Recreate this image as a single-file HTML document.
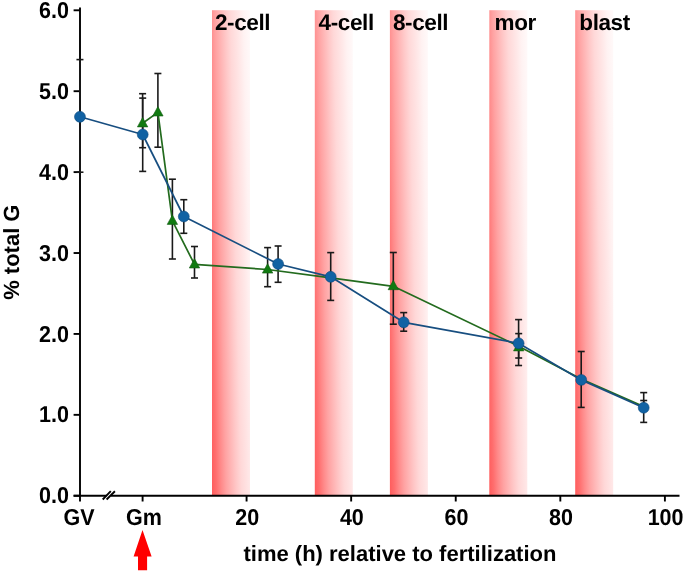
<!DOCTYPE html>
<html><head><meta charset="utf-8"><style>
html,body{margin:0;padding:0;background:#fff;}
body{width:685px;height:572px;overflow:hidden;}
svg{display:block;will-change:transform;}
text{font-family:"Liberation Sans",sans-serif;font-weight:bold;fill:#000;text-rendering:geometricPrecision;}
</style></head><body>
<svg width="685" height="572" viewBox="0 0 685 572">
<defs>
<linearGradient id="b0" gradientUnits="userSpaceOnUse" x1="212.00" y1="495.75" x2="261.37" y2="494.59"><stop offset="0.0000" stop-color="#ff5c5c"/><stop offset="0.0923" stop-color="#ff6e6e"/><stop offset="0.1923" stop-color="#ff8a8a"/><stop offset="0.2923" stop-color="#ffa2a2"/><stop offset="0.4000" stop-color="#ffb6b6"/><stop offset="0.5000" stop-color="#ffc8c8"/><stop offset="0.6000" stop-color="#ffd8d8"/><stop offset="0.7077" stop-color="#ffe2e2"/><stop offset="0.7692" stop-color="#ffe8e8"/><stop offset="0.8615" stop-color="#fff2f2"/><stop offset="1.0000" stop-color="#fffafa"/></linearGradient>
<linearGradient id="b1" gradientUnits="userSpaceOnUse" x1="314.80" y1="495.75" x2="364.17" y2="494.59"><stop offset="0.0000" stop-color="#ff5c5c"/><stop offset="0.0923" stop-color="#ff6e6e"/><stop offset="0.1923" stop-color="#ff8a8a"/><stop offset="0.2923" stop-color="#ffa2a2"/><stop offset="0.4000" stop-color="#ffb6b6"/><stop offset="0.5000" stop-color="#ffc8c8"/><stop offset="0.6000" stop-color="#ffd8d8"/><stop offset="0.7077" stop-color="#ffe2e2"/><stop offset="0.7692" stop-color="#ffe8e8"/><stop offset="0.8615" stop-color="#fff2f2"/><stop offset="1.0000" stop-color="#fffafa"/></linearGradient>
<linearGradient id="b2" gradientUnits="userSpaceOnUse" x1="389.90" y1="495.75" x2="439.27" y2="494.59"><stop offset="0.0000" stop-color="#ff5c5c"/><stop offset="0.0923" stop-color="#ff6e6e"/><stop offset="0.1923" stop-color="#ff8a8a"/><stop offset="0.2923" stop-color="#ffa2a2"/><stop offset="0.4000" stop-color="#ffb6b6"/><stop offset="0.5000" stop-color="#ffc8c8"/><stop offset="0.6000" stop-color="#ffd8d8"/><stop offset="0.7077" stop-color="#ffe2e2"/><stop offset="0.7692" stop-color="#ffe8e8"/><stop offset="0.8615" stop-color="#fff2f2"/><stop offset="1.0000" stop-color="#fffafa"/></linearGradient>
<linearGradient id="b3" gradientUnits="userSpaceOnUse" x1="489.30" y1="495.75" x2="538.67" y2="494.59"><stop offset="0.0000" stop-color="#ff5c5c"/><stop offset="0.0923" stop-color="#ff6e6e"/><stop offset="0.1923" stop-color="#ff8a8a"/><stop offset="0.2923" stop-color="#ffa2a2"/><stop offset="0.4000" stop-color="#ffb6b6"/><stop offset="0.5000" stop-color="#ffc8c8"/><stop offset="0.6000" stop-color="#ffd8d8"/><stop offset="0.7077" stop-color="#ffe2e2"/><stop offset="0.7692" stop-color="#ffe8e8"/><stop offset="0.8615" stop-color="#fff2f2"/><stop offset="1.0000" stop-color="#fffafa"/></linearGradient>
<linearGradient id="b4" gradientUnits="userSpaceOnUse" x1="575.20" y1="495.75" x2="624.57" y2="494.59"><stop offset="0.0000" stop-color="#ff5c5c"/><stop offset="0.0923" stop-color="#ff6e6e"/><stop offset="0.1923" stop-color="#ff8a8a"/><stop offset="0.2923" stop-color="#ffa2a2"/><stop offset="0.4000" stop-color="#ffb6b6"/><stop offset="0.5000" stop-color="#ffc8c8"/><stop offset="0.6000" stop-color="#ffd8d8"/><stop offset="0.7077" stop-color="#ffe2e2"/><stop offset="0.7692" stop-color="#ffe8e8"/><stop offset="0.8615" stop-color="#fff2f2"/><stop offset="1.0000" stop-color="#fffafa"/></linearGradient>
</defs>

<rect x="212.0" y="10.2" width="38" height="485.6" fill="url(#b0)"/>
<rect x="314.8" y="10.2" width="38" height="485.6" fill="url(#b1)"/>
<rect x="389.9" y="10.2" width="38" height="485.6" fill="url(#b2)"/>
<rect x="489.3" y="10.2" width="38" height="485.6" fill="url(#b3)"/>
<rect x="575.2" y="10.2" width="38" height="485.6" fill="url(#b4)"/>
<text x="215.0" y="29.5" font-size="22.5" letter-spacing="-0.4">2-cell</text>
<text x="318.6" y="29.5" font-size="22.5" letter-spacing="-0.4">4-cell</text>
<text x="393.0" y="29.5" font-size="22.5" letter-spacing="-0.4">8-cell</text>
<text x="494.6" y="29.5" font-size="22.5" letter-spacing="-0.4">mor</text>
<text x="579.3" y="29.5" font-size="22.5" letter-spacing="-0.4">blast</text>
<g stroke="#000" stroke-width="1.9" fill="none">
<line x1="80" y1="7.5" x2="80" y2="495.75"/>
<line x1="73.6" y1="495.75" x2="106.6" y2="495.75"/>
<line x1="110.8" y1="495.75" x2="679.5" y2="495.75"/>
<line x1="73.6" y1="495.75" x2="80" y2="495.75"/>
<line x1="73.6" y1="414.84" x2="80" y2="414.84"/>
<line x1="73.6" y1="333.93" x2="80" y2="333.93"/>
<line x1="73.6" y1="253.02" x2="80" y2="253.02"/>
<line x1="73.6" y1="172.11" x2="80" y2="172.11"/>
<line x1="73.6" y1="91.20" x2="80" y2="91.20"/>
<line x1="73.6" y1="10.29" x2="80" y2="10.29"/>
<line x1="80.00" y1="495.75" x2="80.00" y2="501.5"/>
<line x1="142.60" y1="495.75" x2="142.60" y2="501.5"/>
<line x1="246.58" y1="495.75" x2="246.58" y2="501.5"/>
<line x1="351.16" y1="495.75" x2="351.16" y2="501.5"/>
<line x1="455.74" y1="495.75" x2="455.74" y2="501.5"/>
<line x1="560.32" y1="495.75" x2="560.32" y2="501.5"/>
<line x1="664.90" y1="495.75" x2="664.90" y2="501.5"/>
<line x1="102.7" y1="499.5" x2="110.8" y2="491.2"/>
<line x1="106.6" y1="499.5" x2="114.9" y2="491.3"/>
</g>
<text transform="translate(69.0,503.35) scale(0.935,1)" font-size="23" text-anchor="end">0.0</text>
<text transform="translate(69.0,422.44) scale(0.935,1)" font-size="23" text-anchor="end">1.0</text>
<text transform="translate(69.0,341.53) scale(0.935,1)" font-size="23" text-anchor="end">2.0</text>
<text transform="translate(69.0,260.62) scale(0.935,1)" font-size="23" text-anchor="end">3.0</text>
<text transform="translate(69.0,179.71) scale(0.935,1)" font-size="23" text-anchor="end">4.0</text>
<text transform="translate(69.0,98.80) scale(0.935,1)" font-size="23" text-anchor="end">5.0</text>
<text transform="translate(69.0,17.89) scale(0.935,1)" font-size="23" text-anchor="end">6.0</text>
<text transform="translate(79,525.2) scale(0.935,1)" font-size="23" text-anchor="middle">GV</text>
<text transform="translate(144,525.2) scale(0.935,1)" font-size="23" text-anchor="middle">Gm</text>
<text transform="translate(247.28,525.2) scale(0.935,1)" font-size="23" text-anchor="middle">20</text>
<text transform="translate(351.86,525.2) scale(0.935,1)" font-size="23" text-anchor="middle">40</text>
<text transform="translate(456.44,525.2) scale(0.935,1)" font-size="23" text-anchor="middle">60</text>
<text transform="translate(561.02,525.2) scale(0.935,1)" font-size="23" text-anchor="middle">80</text>
<text transform="translate(665.60,525.2) scale(0.935,1)" font-size="23" text-anchor="middle">100</text>
<text x="243.5" y="561" font-size="22">time (h) relative to fertilization</text>
<text transform="translate(19.2,252.2) rotate(-90)" font-size="22" text-anchor="middle">% total G</text>
<polygon points="142.5,530 151.6,556.4 147.1,556.4 147.1,570.2 138,570.2 138,556.4 133.6,556.4" fill="#ff0000"/>
<g stroke="#1a1a1a" stroke-width="1.6">
<line x1="79.95" y1="59.6" x2="79.95" y2="172.2"/><line x1="76.45" y1="59.6" x2="83.45" y2="59.6"/><line x1="76.45" y1="172.2" x2="83.45" y2="172.2"/>
<line x1="142.7" y1="98.1" x2="142.7" y2="171.4"/><line x1="139.2" y1="98.1" x2="146.2" y2="98.1"/><line x1="139.2" y1="171.4" x2="146.2" y2="171.4"/>
<line x1="183.8" y1="199.7" x2="183.8" y2="233.3"/><line x1="180.3" y1="199.7" x2="187.3" y2="199.7"/><line x1="180.3" y1="233.3" x2="187.3" y2="233.3"/>
<line x1="278.1" y1="246.0" x2="278.1" y2="282.3"/><line x1="274.6" y1="246.0" x2="281.6" y2="246.0"/><line x1="274.6" y1="282.3" x2="281.6" y2="282.3"/>
<line x1="330.7" y1="252.6" x2="330.7" y2="300.4"/><line x1="327.2" y1="252.6" x2="334.2" y2="252.6"/><line x1="327.2" y1="300.4" x2="334.2" y2="300.4"/>
<line x1="403.7" y1="312.6" x2="403.7" y2="331.2"/><line x1="400.2" y1="312.6" x2="407.2" y2="312.6"/><line x1="400.2" y1="331.2" x2="407.2" y2="331.2"/>
<line x1="518.6" y1="319.6" x2="518.6" y2="365.5"/><line x1="515.1" y1="319.6" x2="522.1" y2="319.6"/><line x1="515.1" y1="365.5" x2="522.1" y2="365.5"/>
<line x1="581.2" y1="351.5" x2="581.2" y2="407.4"/><line x1="577.7" y1="351.5" x2="584.7" y2="351.5"/><line x1="577.7" y1="407.4" x2="584.7" y2="407.4"/>
<line x1="643.7" y1="392.6" x2="643.7" y2="422.4"/><line x1="640.2" y1="392.6" x2="647.2" y2="392.6"/><line x1="640.2" y1="422.4" x2="647.2" y2="422.4"/>
<line x1="142.6" y1="93.7" x2="142.6" y2="147.7"/><line x1="139.1" y1="93.7" x2="146.1" y2="93.7"/><line x1="139.1" y1="147.7" x2="146.1" y2="147.7"/>
<line x1="157.9" y1="73.5" x2="157.9" y2="147.2"/><line x1="154.4" y1="73.5" x2="161.4" y2="73.5"/><line x1="154.4" y1="147.2" x2="161.4" y2="147.2"/>
<line x1="172.4" y1="179.2" x2="172.4" y2="259.0"/><line x1="168.9" y1="179.2" x2="175.9" y2="179.2"/><line x1="168.9" y1="259.0" x2="175.9" y2="259.0"/>
<line x1="194.5" y1="246.5" x2="194.5" y2="278.0"/><line x1="191.0" y1="246.5" x2="198.0" y2="246.5"/><line x1="191.0" y1="278.0" x2="198.0" y2="278.0"/>
<line x1="267.6" y1="247.6" x2="267.6" y2="286.7"/><line x1="264.1" y1="247.6" x2="271.1" y2="247.6"/><line x1="264.1" y1="286.7" x2="271.1" y2="286.7"/>
<line x1="393.3" y1="252.5" x2="393.3" y2="324.2"/><line x1="389.8" y1="252.5" x2="396.8" y2="252.5"/><line x1="389.8" y1="324.2" x2="396.8" y2="324.2"/>
<line x1="518.7" y1="333.6" x2="518.7" y2="358.0"/><line x1="515.2" y1="333.6" x2="522.2" y2="333.6"/><line x1="515.2" y1="358.0" x2="522.2" y2="358.0"/>
<line x1="643.7" y1="400.5" x2="643.7" y2="408.0"/><line x1="640.2" y1="400.5" x2="647.2" y2="400.5"/><line x1="640.2" y1="408.0" x2="647.2" y2="408.0"/>
</g>
<polyline points="142.6,123.2 157.9,112.4 172.4,220.8 194.5,264.4 267.6,269.5 330.7,277.8 393.3,286.3 518.7,346.3 581.2,379.0 643.7,406.6" fill="none" stroke="#236b1e" stroke-width="1.7" stroke-linejoin="round"/>
<polygon points="142.6,117.50 147.80,126.90 137.40,126.90" fill="#107a10" stroke="#145a14" stroke-width="0.6"/>
<polygon points="157.9,106.60 163.10,116.00 152.70,116.00" fill="#107a10" stroke="#145a14" stroke-width="0.6"/>
<polygon points="172.4,215.00 177.60,224.40 167.20,224.40" fill="#107a10" stroke="#145a14" stroke-width="0.6"/>
<polygon points="194.5,258.60 199.70,268.00 189.30,268.00" fill="#107a10" stroke="#145a14" stroke-width="0.6"/>
<polygon points="267.6,263.70 272.80,273.10 262.40,273.10" fill="#107a10" stroke="#145a14" stroke-width="0.6"/>
<polygon points="393.3,280.30 398.50,289.70 388.10,289.70" fill="#107a10" stroke="#145a14" stroke-width="0.6"/>
<polygon points="518.7,341.50 523.90,350.90 513.50,350.90" fill="#107a10" stroke="#145a14" stroke-width="0.6"/>
<polyline points="79.95,116.8 142.7,134.5 183.8,216.5 278.1,264.0 330.7,276.8 403.7,322.3 518.6,343.3 581.2,379.9 643.7,407.7" fill="none" stroke="#174e80" stroke-width="1.7" stroke-linejoin="round"/>
<circle cx="79.95" cy="116.8" r="5.45" fill="#1162a3" stroke="#0d4a7e" stroke-width="0.6"/>
<circle cx="142.7" cy="134.5" r="5.45" fill="#1162a3" stroke="#0d4a7e" stroke-width="0.6"/>
<circle cx="183.8" cy="216.5" r="5.45" fill="#1162a3" stroke="#0d4a7e" stroke-width="0.6"/>
<circle cx="278.1" cy="264.0" r="5.45" fill="#1162a3" stroke="#0d4a7e" stroke-width="0.6"/>
<circle cx="330.7" cy="276.8" r="5.45" fill="#1162a3" stroke="#0d4a7e" stroke-width="0.6"/>
<circle cx="403.7" cy="322.3" r="5.45" fill="#1162a3" stroke="#0d4a7e" stroke-width="0.6"/>
<circle cx="518.6" cy="343.3" r="5.45" fill="#1162a3" stroke="#0d4a7e" stroke-width="0.6"/>
<circle cx="581.2" cy="379.9" r="5.45" fill="#1162a3" stroke="#0d4a7e" stroke-width="0.6"/>
<circle cx="643.7" cy="407.7" r="5.45" fill="#1162a3" stroke="#0d4a7e" stroke-width="0.6"/>
</svg>
</body></html>
